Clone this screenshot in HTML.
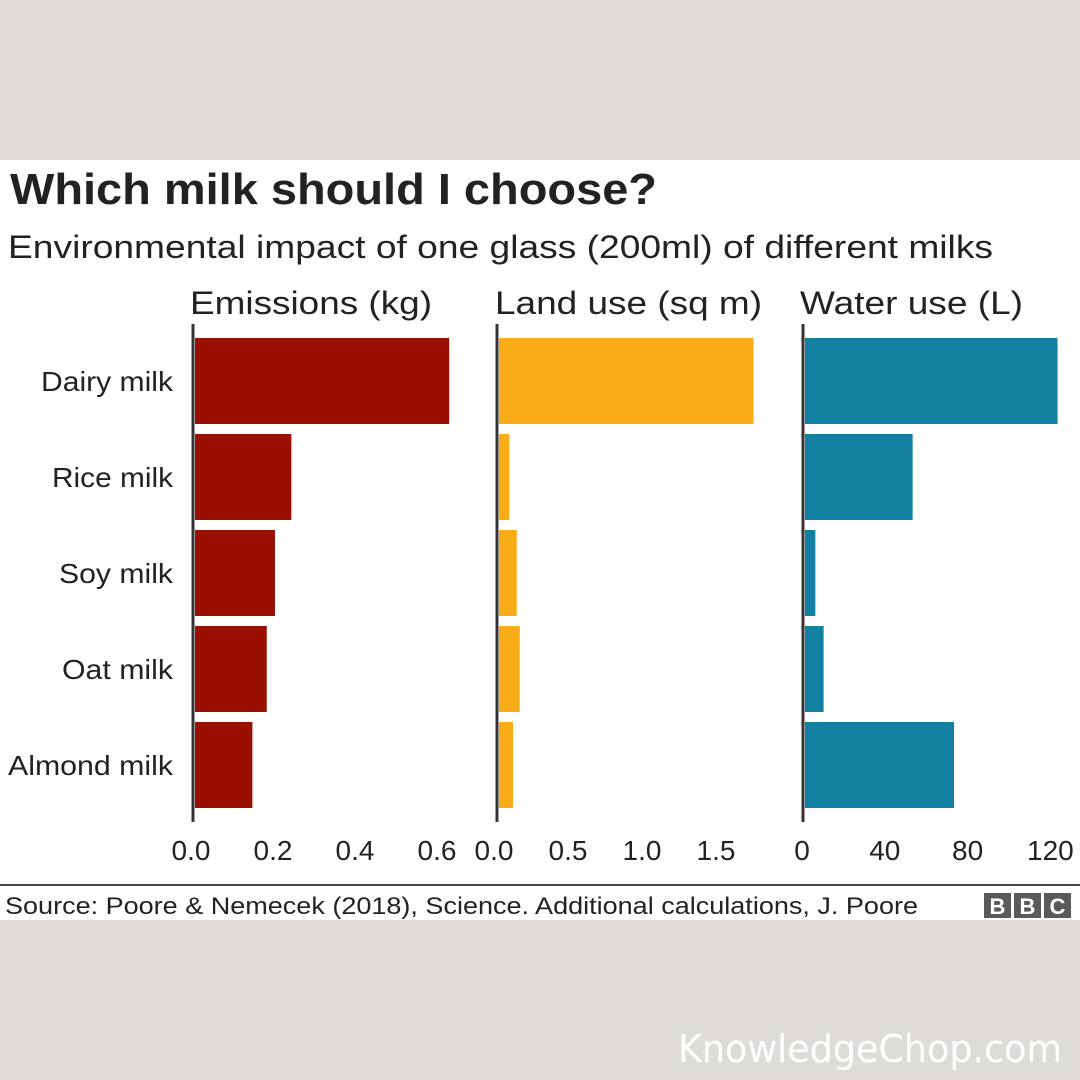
<!DOCTYPE html>
<html><head><meta charset="utf-8"><style>
html,body{margin:0;padding:0;width:1080px;height:1080px;overflow:hidden;background:#dfdcd8;}
svg{display:block;font-family:"Liberation Sans",Arial,sans-serif;}
</style></head><body>
<svg id="c" width="1080" height="1080" viewBox="0 0 1080 1080">
<rect x="0" y="0" width="1080" height="1080" fill="#dfdcd8"/>
<rect x="0" y="160" width="1080" height="760" fill="#ffffff"/>
<text x="10" y="204" font-size="44" font-weight="bold" fill="#222" textLength="647" lengthAdjust="spacingAndGlyphs">Which milk should I choose?</text>
<text x="8" y="258" font-size="32" fill="#222" textLength="985" lengthAdjust="spacingAndGlyphs">Environmental impact of one glass (200ml) of different milks</text>
<line x1="0" y1="885" x2="1080" y2="885" stroke="#444" stroke-width="2"/>
<text x="5" y="914" font-size="24" fill="#222" textLength="913" lengthAdjust="spacingAndGlyphs">Source: Poore &amp; Nemecek (2018), Science. Additional calculations, J. Poore</text>
<g>
<rect x="984" y="893" width="27" height="25" fill="#5a5a5a"/><text x="997.5" y="914" font-size="22" font-weight="bold" fill="#fff" text-anchor="middle">B</text>
<rect x="1014" y="893" width="27" height="25" fill="#5a5a5a"/><text x="1027.5" y="914" font-size="22" font-weight="bold" fill="#fff" text-anchor="middle">B</text>
<rect x="1044" y="893" width="27" height="25" fill="#5a5a5a"/><text x="1057.5" y="914" font-size="22" font-weight="bold" fill="#fff" text-anchor="middle">C</text>
</g>
<text x="678" y="1062" font-size="38" fill="#ffffff" textLength="384" lengthAdjust="spacingAndGlyphs" font-family="'DejaVu Sans',sans-serif">KnowledgeChop.com</text>
<g id="plots"></g>
</svg>
<script>
const categories = ["Dairy milk","Rice milk","Soy milk","Oat milk","Almond milk"];
const emissions = [0.62, 0.235, 0.195, 0.175, 0.14];
const landUse = [1.72, 0.07, 0.12, 0.14, 0.095];
const waterUse = [122, 52, 5, 9, 72];
const emissionTicks = [0, 0.2, 0.4, 0.6];
const emissionTickLabels = ["0.0","0.2","0.4","0.6"];
const landTicks = [0, 0.5, 1.0, 1.5];
const landTickLabels = ["0.0","0.5","1.0","1.5"];
const waterTicks = [0, 40, 80, 120];
const waterTickLabels = ["0","40","80","120"];
const panelTitles = ["Emissions (kg)","Land use (sq m)","Water use (L)"];

const NS = "http://www.w3.org/2000/svg";
const g = document.getElementById("plots");
function mk(tag, attrs, parent){const e=document.createElementNS(NS,tag);for(const k in attrs)e.setAttribute(k,attrs[k]);(parent||g).appendChild(e);return e;}
const yTop = 338, step = 96, barH = 86;
const labelWidths = [132, 121, 114, 111, 165];
function yPos(i){return yTop + i*step;}

categories.forEach((c,i)=>{
  const t = mk("text",{x:173,y:yPos(i)+barH/2+10,"font-size":28,fill:"#222","text-anchor":"end",textLength:labelWidths[i],lengthAdjust:"spacingAndGlyphs"});
  t.textContent = c;
  
  
});

const panels = [
  {vals:emissions,ticks:emissionTicks,labels:emissionTickLabels,x0:195,scale:410,color:"#990f02",title:panelTitles[0],tx:190,tw:242,labelOff:-4,key:"emissions"},
  {vals:landUse,ticks:landTicks,labels:landTickLabels,x0:499,scale:148,color:"#faab18",title:panelTitles[1],tx:495,tw:267,labelOff:-5,key:"land-use"},
  {vals:waterUse,ticks:waterTicks,labels:waterTickLabels,x0:805,scale:2.07,color:"#1380a1",title:panelTitles[2],tx:800,tw:223,labelOff:-3,key:"water-use"}
];
panels.forEach(p=>{
  const xf = v => p.x0 + v*p.scale;
  const tt = mk("text",{x:p.tx,y:314,"font-size":32,fill:"#222",textLength:p.tw,lengthAdjust:"spacingAndGlyphs"});
  tt.textContent = p.title;
  
  
  p.vals.forEach((v,i)=>{
    const r = mk("rect",{x:p.x0,y:yPos(i),width:Math.max(0,xf(v)-p.x0),height:barH,fill:p.color});
    
    
  });
  const ax = mk("line",{x1:p.x0-2,y1:324,x2:p.x0-2,y2:822,stroke:"#333","stroke-width":3});
  
  
  p.ticks.forEach((tv,i)=>{
    const t = mk("text",{x:xf(tv)+p.labelOff,y:860,"font-size":28,fill:"#222","text-anchor":"middle"});
    t.textContent = p.labels[i];
    
    
  });
});
</script>
</body></html>
